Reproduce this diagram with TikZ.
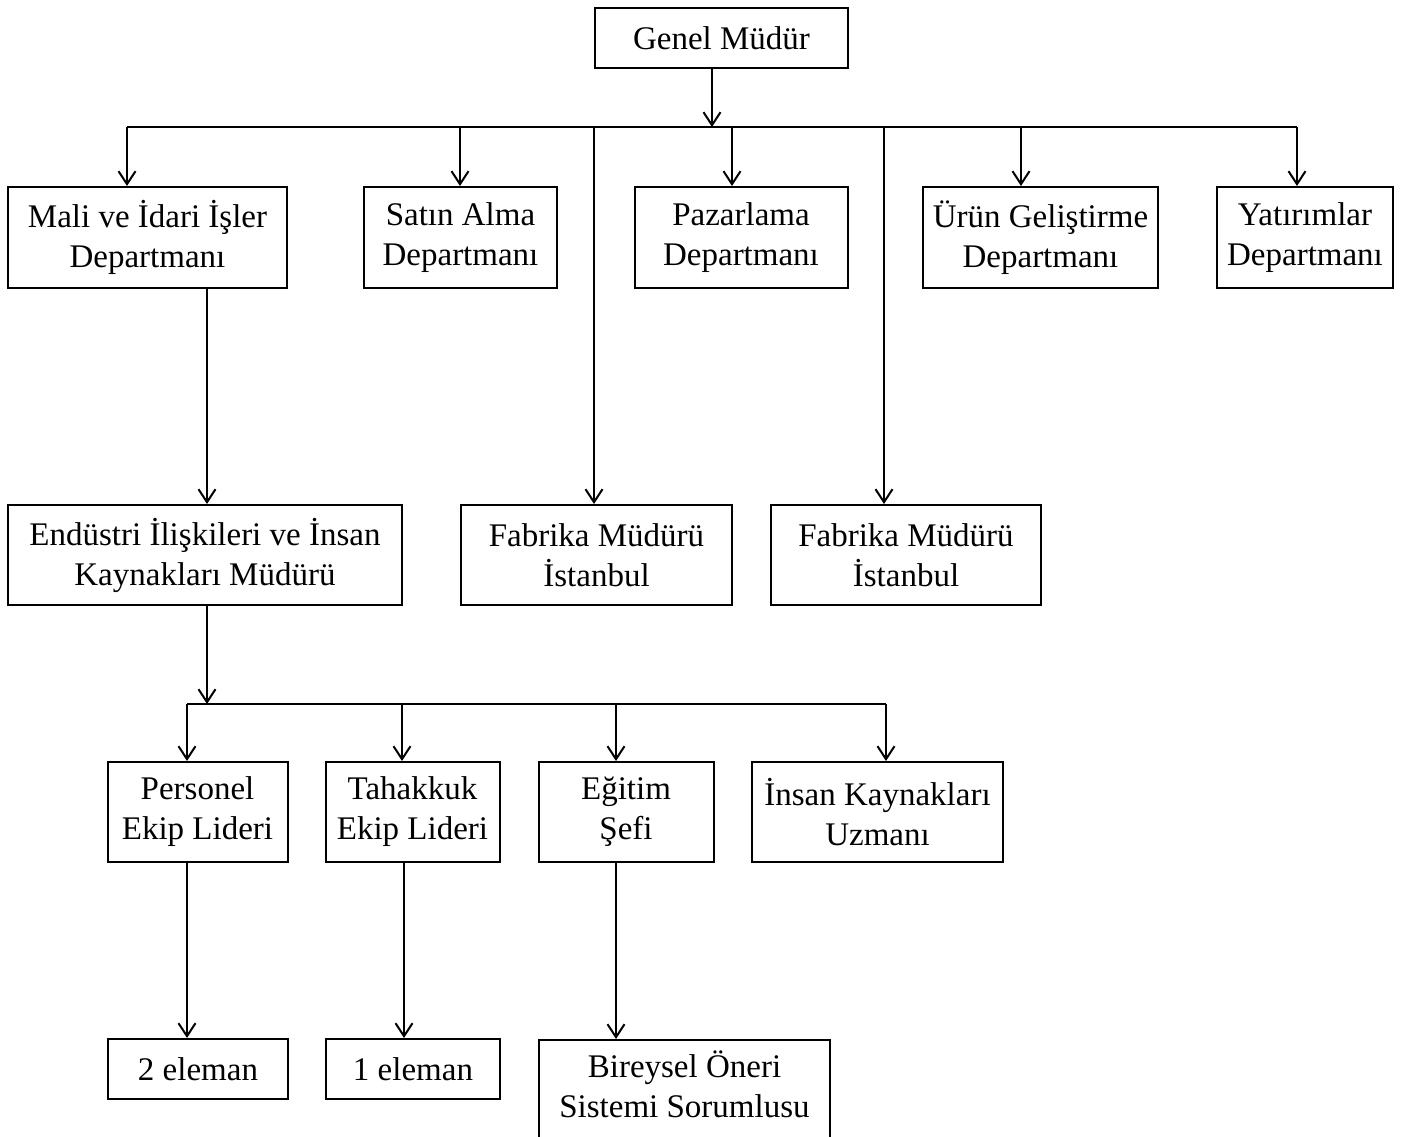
\documentclass[tikz,border=0pt]{standalone}
\usepackage{fontspec}
\setmainfont{Liberation Serif}
\usetikzlibrary{arrows.meta}
\begin{document}
\begin{tikzpicture}[x=1pt,y=-1pt,
  box/.style={draw=black, line width=2pt, fill=white, inner sep=0pt,
    align=center, font=\fontsize{33}{40}\selectfont},
  link/.style={draw=black, line width=2pt},
  arr/.style={link, -{Straight Barb[length=13pt,width=17pt]}}]
\useasboundingbox[fill=white] (0,0) rectangle (1403,1137);

% top level
\node[box, minimum width=253pt, minimum height=60pt] (gm) at (721.5,38) {Genel Müdür};

% departments
\node[box, minimum width=279pt, minimum height=101pt] (mali) at (147.5,237.5) {Mali ve İdari İşler\\Departmanı};
\node[box, minimum width=193pt, minimum height=101pt] (satin) at (460.5,237.5) {Satın Alma\\Departmanı};
\node[box, minimum width=213pt, minimum height=101pt] (paz) at (741,237.5) {Pazarlama\\Departmanı};
\node[box, minimum width=235pt, minimum height=101pt] (urun) at (1040.5,237.5) {Ürün Geliştirme\\Departmanı};
\node[box, minimum width=176pt, minimum height=101pt] (yat) at (1305,237.5) {Yatırımlar\\Departmanı};

% second level
\node[box, minimum width=394pt, minimum height=100pt] (endus) at (205,555) {Endüstri İlişkileri ve İnsan\\Kaynakları Müdürü};
\node[box, minimum width=271pt, minimum height=100pt] (fab1) at (596.5,555) {Fabrika Müdürü\\İstanbul};
\node[box, minimum width=270pt, minimum height=100pt] (fab2) at (906,555) {Fabrika Müdürü\\İstanbul};

% third level
\node[box, minimum width=180pt, minimum height=100pt] (pers) at (197.5,812) {Personel\\Ekip Lideri};
\node[box, minimum width=174pt, minimum height=100pt] (tah) at (412.5,812) {Tahakkuk\\Ekip Lideri};
\node[box, minimum width=175pt, minimum height=100pt] (egit) at (626,812) {Eğitim\\Şefi};
\node[box, minimum width=251pt, minimum height=100pt] (ikuz) at (877.5,812) {İnsan Kaynakları\\Uzmanı};

% fourth level
\node[box, minimum width=180pt, minimum height=60pt] (el2) at (198,1069) {2 eleman};
\node[box, minimum width=174pt, minimum height=60pt] (el1) at (413,1069) {1 eleman};
\node[box, minimum width=291pt, minimum height=140pt, anchor=north] (bos) at (684.5,1039) {Bireysel Öneri\\Sistemi Sorumlusu\\\strut};

% upper bus
\coordinate (b0) at (712,127);
\coordinate (tmali) at (127,127);
\coordinate (tsatin) at (460,127);
\coordinate (tf1) at (594,127);
\coordinate (tpaz) at (732,127);
\coordinate (tf2) at (884,127);
\coordinate (turun) at (1021,127);
\coordinate (tyat) at (1297,127);
\draw[link] (tmali) -- (tyat);
\draw[arr] (b0 |- gm.south) -- (b0);
\draw[arr] (tmali) -- (tmali |- mali.north);
\draw[arr] (tsatin) -- (tsatin |- satin.north);
\draw[arr] (tpaz) -- (tpaz |- paz.north);
\draw[arr] (turun) -- (turun |- urun.north);
\draw[arr] (tyat) -- (tyat |- yat.north);
\draw[arr] (tf1) -- (tf1 |- fab1.north);
\draw[arr] (tf2) -- (tf2 |- fab2.north);

% departments to second level
\coordinate (me) at (207,400);
\draw[arr] (me |- mali.south) -- (me |- endus.north);

% lower bus
\coordinate (b2) at (207,704);
\coordinate (tpers) at (187,704);
\coordinate (ttah) at (402,704);
\coordinate (tegit) at (616,704);
\coordinate (tikuz) at (886,704);
\draw[link] (tpers) -- (tikuz);
\draw[arr] (b2 |- endus.south) -- (b2);
\draw[arr] (tpers) -- (tpers |- pers.north);
\draw[arr] (ttah) -- (ttah |- tah.north);
\draw[arr] (tegit) -- (tegit |- egit.north);
\draw[arr] (tikuz) -- (tikuz |- ikuz.north);

% third to fourth level
\coordinate (c1) at (187,950);
\coordinate (c2) at (404,950);
\coordinate (c3) at (616,950);
\draw[arr] (c1 |- pers.south) -- (c1 |- el2.north);
\draw[arr] (c2 |- tah.south) -- (c2 |- el1.north);
\draw[arr] (c3 |- egit.south) -- (c3 |- bos.north);
\end{tikzpicture}
\end{document}
